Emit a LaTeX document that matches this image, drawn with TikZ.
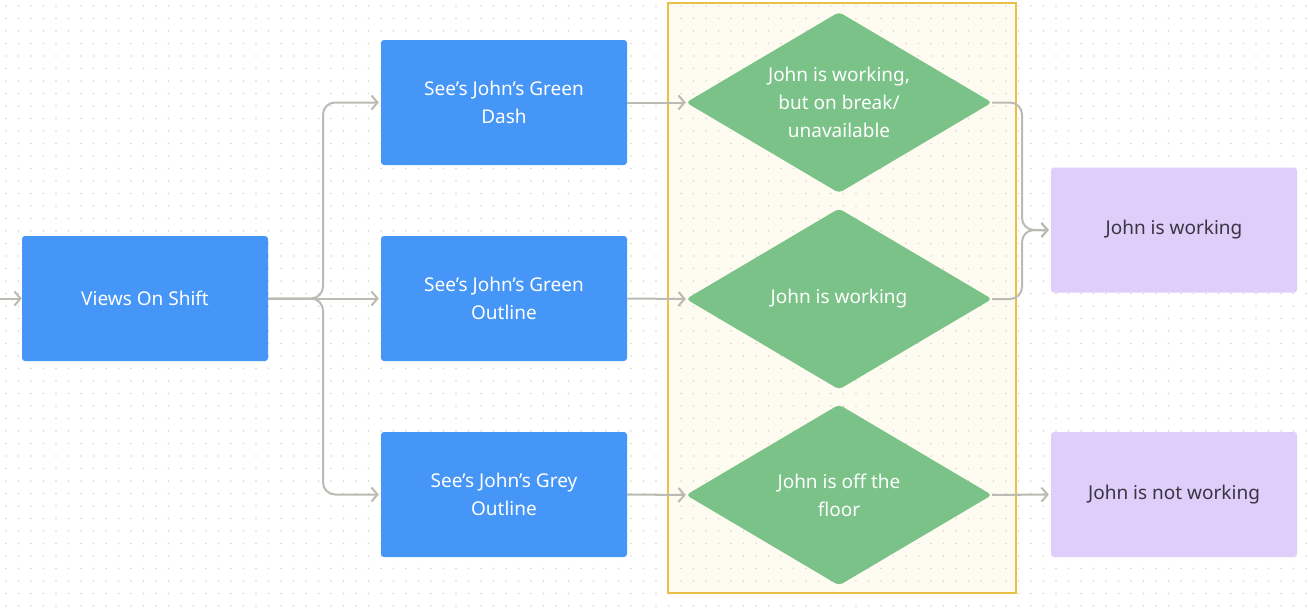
\documentclass[tikz,border=0pt]{standalone}
\usepackage{fontspec}
\setmainfont{Noto Sans}
\usetikzlibrary{arrows.meta,shapes.geometric}
\definecolor{bluebox}{HTML}{4596F6}
\definecolor{greenbox}{HTML}{7AC287}
\definecolor{purplebox}{HTML}{DFCDFA}
\definecolor{ylfill}{HTML}{FEFCF1}
\definecolor{ylline}{HTML}{E9BF46}
\definecolor{conn}{HTML}{BBBBB3}
\definecolor{dotc}{HTML}{D6D6D6}
\definecolor{darktext}{HTML}{3A3540}
\tikzset{
  txt/.style={font=\fontsize{19}{28}\selectfont,align=center},
  bluenode/.style={txt,draw=none,fill=bluebox,rounded corners=3pt,minimum width=246pt,minimum height=125pt,inner sep=0pt,text=white},
  purplenode/.style={txt,draw=none,fill=purplebox,rounded corners=3pt,minimum width=246pt,minimum height=125pt,inner sep=0pt,text=darktext},
  decision/.style={txt,shape=diamond,shape aspect=1.7,draw=none,fill=greenbox,rounded corners=4pt,minimum width=306pt,minimum height=181pt,inner sep=0pt,text=white},
  link/.style={draw=conn,line width=2pt,rounded corners=12pt,-{Straight Barb[length=6pt,width=14pt,line width=2pt]}},
}
\begin{document}
\begin{tikzpicture}[x=1pt,y=-1pt]
\useasboundingbox (0,0) rectangle (1308,608);
\fill[white] (0,0) rectangle (1308,608);
% container fill
\fill[ylfill] (668,3) rectangle (1016,593);
% dot grid
\foreach \i in {0,...,104} {
  \foreach \j in {0,...,48} {
    \fill[dotc] (6+\i*12.5, 6+\j*12.5) circle[radius=0.8pt];
  }
}
\draw[ylline,line width=2pt] (668,3) rectangle (1016,593);
% nodes
\node[bluenode] (v) at (145,298.5) {Views On Shift};
\node[bluenode] (b1) at (504,102.5) {See’s John’s Green\\Dash};
\node[bluenode] (b2) at (504,298.5) {See’s John’s Green\\Outline};
\node[bluenode] (b3) at (504,494.5) {See’s John’s Grey\\Outline};
\node[decision] (d1) at (839,102.5) {John is working,\\but on break/\\unavailable};
\node[decision] (d2) at (839,299) {John is working};
\node[decision] (d3) at (839,495) {John is off the\\floor};
\node[purplenode] (w) at (1174,230) {John is working};
\node[purplenode] (nw) at (1174,494.5) {John is not working};
\coordinate (in) at (0,298.5);
% connectors
\draw[link] (in) -- (v.west);
\draw[link] (v.east) -- (323,298.5) -- (323,102.5) -- ([xshift=-2pt]b1.west);
\draw[link] (v.east) -- ([xshift=-2pt]b2.west);
\draw[link] (v.east) -- (323,298.5) -- (323,494.5) -- ([xshift=-2pt]b3.west);
\draw[link] (b1.east) -- (d1.west);
\draw[link] (b2.east) -- (d2.west);
\draw[link] (b3.east) -- (d3.west);
\draw[link] (d1.east) -- (1022,102.5) -- (1022,230) -- ([xshift=-2pt]w.west);
\draw[link] (d2.east) -- (1022,299) -- (1022,230) -- ([xshift=-2pt]w.west);
\draw[link] (d3.east) -- ([xshift=-2pt]nw.west);
\end{tikzpicture}
\end{document}
